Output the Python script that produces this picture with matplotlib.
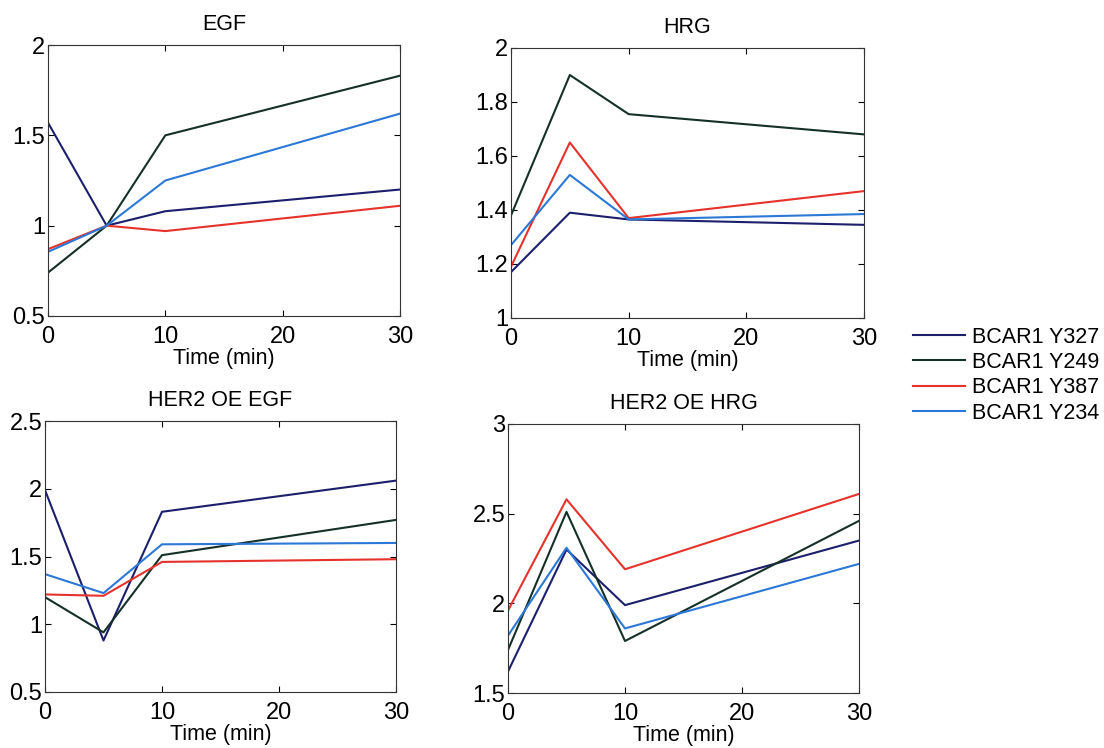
import matplotlib
matplotlib.use('Agg')
import matplotlib.pyplot as plt

plt.rcParams['font.family'] = ['Liberation Sans', 'DejaVu Sans']

time_min = [0, 5, 10, 30]
series_names = ['BCAR1 Y327', 'BCAR1 Y249', 'BCAR1 Y387', 'BCAR1 Y234']
series_colors = ['#1c1f6b', '#143028', '#e5332c', '#2b78d6']

egf = [
    [1.57, 1.0, 1.08, 1.20],
    [0.74, 1.0, 1.50, 1.83],
    [0.87, 1.0, 0.97, 1.11],
    [0.855, 1.0, 1.25, 1.62],
]
hrg = [
    [1.17, 1.39, 1.365, 1.345],
    [1.38, 1.90, 1.755, 1.68],
    [1.19, 1.65, 1.37, 1.47],
    [1.27, 1.53, 1.365, 1.385],
]
her2_egf = [
    [1.99, 0.88, 1.83, 2.06],
    [1.20, 0.94, 1.51, 1.77],
    [1.22, 1.21, 1.46, 1.48],
    [1.37, 1.23, 1.59, 1.60],
]
her2_hrg = [
    [1.62, 2.30, 1.99, 2.35],
    [1.74, 2.51, 1.79, 2.46],
    [1.96, 2.58, 2.19, 2.61],
    [1.82, 2.31, 1.86, 2.22],
]

panels = [
    ('EGF', egf, (0.5, 2.0), [0.5, 1, 1.5, 2], ['0.5', '1', '1.5', '2']),
    ('HRG', hrg, (1.0, 2.0), [1, 1.2, 1.4, 1.6, 1.8, 2], ['1', '1.2', '1.4', '1.6', '1.8', '2']),
    ('HER2 OE EGF', her2_egf, (0.5, 2.5), [0.5, 1, 1.5, 2, 2.5], ['0.5', '1', '1.5', '2', '2.5']),
    ('HER2 OE HRG', her2_hrg, (1.5, 3.0), [1.5, 2, 2.5, 3], ['1.5', '2', '2.5', '3']),
]

W, H = 1104, 748
# axes boxes in pixels: left, top, right, bottom
boxes = [
    (48, 45, 400, 316),
    (511, 48, 864, 318),
    (45, 421, 396, 692),
    (508, 424, 859, 693),
]

fig = plt.figure(figsize=(W / 100, H / 100), dpi=100)
fs = 15.5

handles = []
for (title, data, ylim, yt, ytl), (l, t, r, b) in zip(panels, boxes):
    ax = fig.add_axes([l / W, 1 - b / H, (r - l) / W, (b - t) / H])
    for vals, col in zip(data, series_colors):
        ln, = ax.plot(time_min, vals, color=col, lw=1.5)
        if len(handles) < len(series_names):
            handles.append(ln)
    ax.set_xlim(0, 30)
    ax.set_ylim(*ylim)
    ax.set_xticks([0, 10, 20, 30])
    ax.set_xticklabels(['0', '10', '20', '30'])
    ax.set_yticks(yt)
    ax.set_yticklabels(ytl)
    ax.tick_params(direction='in', top=True, right=True, labelsize=17,
                   length=4, width=0.8)
    ax.tick_params(axis='x', pad=7)
    ax.tick_params(axis='y', pad=2)
    ax.set_xlabel('Time (min)', fontsize=fs, labelpad=0)
    ax.set_title(title, fontsize=fs, pad=11)
    for s in ax.spines.values():
        s.set_linewidth(0.8)
        s.set_color('#333333')

fig.legend(handles, series_names, loc='upper left',
           bbox_to_anchor=(904 / W, 1 - 318 / H), frameon=False,
           fontsize=fs, handlelength=2.45, handletextpad=0.33,
           labelspacing=0.2, borderaxespad=0)

fig.savefig('out.png', dpi=100)
